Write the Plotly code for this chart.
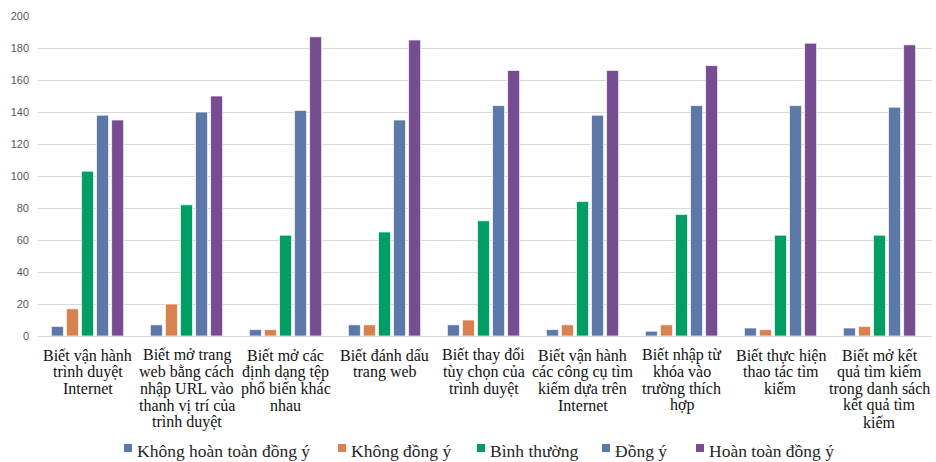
import plotly.graph_objects as go

categories = [
    "Biết vận hành<br>trình duyệt<br>Internet",
    "Biết mở trang<br>web bằng cách<br>nhập URL vào<br>thanh vị trí của<br>trình duyệt",
    "Biết mở các<br>định dạng tệp<br>phổ biến khác<br>nhau",
    "Biết đánh dấu<br>trang web",
    "Biết thay đổi<br>tùy chọn của<br>trình duyệt",
    "Biết vận hành<br>các công cụ tìm<br>kiếm dựa trên<br>Internet",
    "Biết nhập từ<br>khóa vào<br>trường thích<br>hợp",
    "Biết thực hiện<br>thao tác tìm<br>kiếm",
    "Biết mở kết<br>quả tìm kiếm<br>trong danh sách<br>kết quả tìm<br>kiếm",
]

series_names = [
    "Không hoàn toàn đồng ý",
    "Không đồng ý",
    "Bình thường",
    "Đồng ý",
    "Hoàn toàn đồng ý",
]

khong_hoan_toan = [6, 7, 4, 7, 7, 4, 3, 5, 5]
khong_dong_y = [17, 20, 4, 7, 10, 7, 7, 4, 6]
binh_thuong = [103, 82, 63, 65, 72, 84, 76, 63, 63]
dong_y = [138, 140, 141, 135, 144, 138, 144, 144, 143]
hoan_toan = [135, 150, 187, 185, 166, 166, 169, 183, 182]

values = [khong_hoan_toan, khong_dong_y, binh_thuong, dong_y, hoan_toan]
colors = ["#5b78a8", "#da8150", "#009e64", "#5b78a8", "#774d91"]

SERIF = "Liberation Serif, Times New Roman, serif"

# plot-area geometry in pixels
W, H = 936, 462
ML, MR, MT, MB = 38, 4, 16, 126
PW, PH = W - ML - MR, H - MT - MB


def px_x(px):
    return (px - ML) / PW


def px_y(py):
    return (H - MB - py) / PH


fig = go.Figure()
for name, vals, col in zip(series_names, values, colors):
    fig.add_trace(go.Bar(
        x=categories, y=vals, name=name,
        marker=dict(color=col, line=dict(color="rgba(255,255,255,0.7)", width=1)),
    ))

# category labels, written line by line for tight line spacing
LINE_H = 16.8
for cat in categories:
    for i, line in enumerate(cat.split("<br>")):
        fig.add_annotation(
            x=cat, xref="x", y=0, yref="paper",
            xanchor="center", yanchor="middle",
            yshift=-(19 + i * LINE_H),
            text=line, showarrow=False,
            font=dict(family=SERIF, size=16, color="#111111"),
        )

# legend: small coloured squares followed by the series names
legend_text_x = [135, 349, 488, 613, 707]
for name, col, tx in zip(series_names, colors, legend_text_x):
    fig.add_shape(
        type="rect", xref="paper", yref="paper",
        x0=px_x(tx - 11), x1=px_x(tx - 3),
        y0=px_y(452), y1=px_y(444),
        fillcolor=col, line=dict(width=0),
    )
    fig.add_annotation(
        x=px_x(tx), xref="paper", y=px_y(451), yref="paper",
        xanchor="left", yanchor="middle",
        text=name, showarrow=False,
        font=dict(family=SERIF, size=17.5, color="#262626"),
    )

fig.update_layout(
    width=W, height=H,
    margin=dict(l=ML, r=MR, t=MT, b=MB, autoexpand=False),
    paper_bgcolor="white", plot_bgcolor="white",
    barmode="group", bargap=0.24, bargroupgap=0.2,
    font=dict(family=SERIF, color="black"),
    showlegend=False,
)

fig.update_xaxes(
    showgrid=False, showline=False, ticks="",
    showticklabels=False, automargin=False,
)
fig.update_yaxes(
    range=[0, 200], dtick=20, automargin=False,
    showgrid=True, gridcolor="#d9d9d9", gridwidth=1,
    zeroline=True, zerolinecolor="#d9d9d9", zerolinewidth=1,
    showline=False, ticks="",
    tickfont=dict(family="Liberation Sans", size=11, color="#595959"),
    ticklabelstandoff=8,
)

fig.write_html("out.html")
